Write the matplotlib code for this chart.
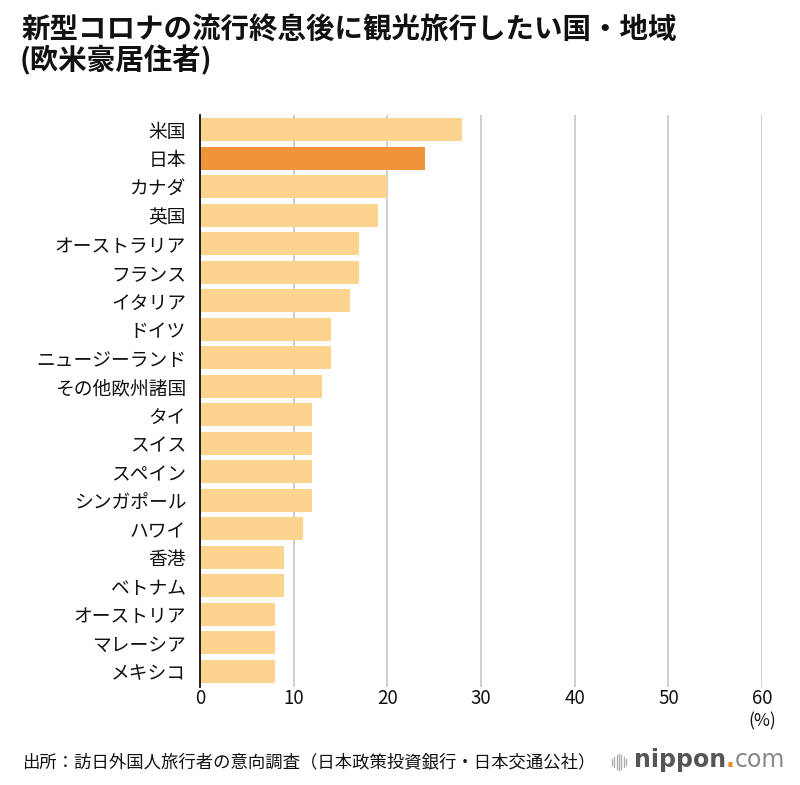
import matplotlib
matplotlib.use("Agg")
import matplotlib.pyplot as plt
from matplotlib.lines import Line2D

plt.rcParams['font.family'] = ['Noto Sans CJK JP', 'DejaVu Sans']

# data
countries = ["米国", "日本", "カナダ", "英国", "オーストラリア", "フランス", "イタリア",
             "ドイツ", "ニュージーランド", "その他欧州諸国", "タイ", "スイス", "スペイン",
             "シンガポール", "ハワイ", "香港", "ベトナム", "オーストリア", "マレーシア", "メキシコ"]
values = [28, 24, 20, 19, 17, 17, 16, 14, 14, 13, 12, 12, 12, 12, 11, 9, 9, 8, 8, 8]
highlight = "日本"
xticks = [0, 10, 20, 30, 40, 50, 60]

light = "#FDD48F"
dark = "#EE953C"
colors = [dark if c == highlight else light for c in countries]

fig = plt.figure(figsize=(8, 7.85), dpi=100)
ax = fig.add_axes([0.25, 0.1248, 0.7025, 0.7287])

ax.barh(range(len(countries)), values, height=0.8, color=colors, zorder=2)
ax.set_ylim(19.55, -0.52)
ax.set_xlim(0, 60)
ax.set_yticks(range(len(countries)))
ax.set_yticklabels(countries, fontsize=13.5, color="#111111")
ax.set_xticks(xticks)
ax.set_xticklabels([str(t) for t in xticks], fontsize=13.5, color="#111111")
ax.tick_params(axis="y", length=0, pad=10)
ax.tick_params(axis="x", length=0, pad=1)
ax.grid(axis="x", color="#cccccc", linewidth=1.3, zorder=0)
for s in ["top", "right", "bottom"]:
    ax.spines[s].set_visible(False)
ax.spines["left"].set_color("#111111")
ax.spines["left"].set_linewidth(1.3)
ax.spines["left"].set_zorder(3)

fig.text(762 / 800, 1 - 721 / 785, "(%)", ha="center", va="center", fontsize=12.5, color="#111111")

fig.text(22 / 800, 1 - 30 / 785, "新型コロナの流行終息後に観光旅行したい国・地域",
         fontsize=20.5, fontweight="bold", ha="left", va="center", color="#111111")
fig.text(20 / 800, 1 - 60 / 785, "(欧米豪居住者)",
         fontsize=20.5, fontweight="bold", ha="left", va="center", color="#111111")

fig.text(22 / 800, 1 - 762 / 785, "出所：訪日外国人旅行者の意向調査（日本政策投資銀行・日本交通公社）",
         fontsize=12.5, ha="left", va="center", color="#111111")

# logo
for i, h in enumerate([6, 10, 14, 16, 14, 10, 6]):
    x = (612 + i * 2.3) / 800
    fig.add_artist(Line2D([x, x], [1 - (762 - h / 2) / 785, 1 - (762 + h / 2) / 785],
                          color="#aaaaaa", linewidth=0.9))
t1 = fig.text(634 / 800, 1 - 760 / 785, "nippon", fontsize=17, fontweight="bold",
              family="DejaVu Sans", color="#555555", ha="left", va="center")
fig.canvas.draw()
bb = t1.get_window_extent()
t2 = fig.text(bb.x1 / 800, 1 - 760 / 785, ".", fontsize=17, fontweight="bold",
              family="DejaVu Sans", color="#EE8A2A", ha="left", va="center")
bb2 = t2.get_window_extent()
fig.text(bb2.x1 / 800, 1 - 760 / 785, "com", fontsize=17,
         family="DejaVu Sans", color="#888888", ha="left", va="center")

fig.savefig("out.png", dpi=100)
